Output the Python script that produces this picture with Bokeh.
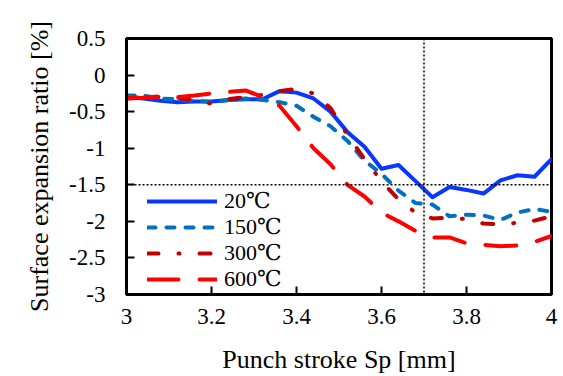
from bokeh.plotting import figure
from bokeh.models import FixedTicker, Span, Legend, LegendItem
from bokeh.embed import file_html
from bokeh.resources import INLINE

stroke = [3.00, 3.04, 3.08, 3.12, 3.16, 3.20, 3.24, 3.28, 3.32, 3.36, 3.40, 3.44, 3.48,
          3.52, 3.56, 3.60, 3.64, 3.68, 3.72, 3.76, 3.80, 3.84, 3.88, 3.92, 3.96, 4.00]

ratio_20 = [-0.30, -0.32, -0.35, -0.37, -0.36, -0.36, -0.34, -0.33, -0.33, -0.22, -0.24, -0.32, -0.50,
            -0.78, -0.98, -1.28, -1.23, -1.45, -1.67, -1.53, -1.57, -1.62, -1.44, -1.37, -1.39, -1.15]
ratio_150 = [-0.28, -0.28, -0.32, -0.33, -0.35, -0.37, -0.34, -0.32, -0.34, -0.37, -0.42, -0.57, -0.70,
             -0.90, -1.17, -1.35, -1.58, -1.75, -1.77, -1.93, -1.91, -1.92, -1.98, -1.88, -1.83, -1.87]
ratio_300 = [-0.32, -0.30, -0.30, -0.31, -0.35, -0.39, -0.33, -0.30, -0.27, -0.22, -0.19, -0.25, -0.45,
             -0.82, -1.15, -1.45, -1.70, -1.88, -1.96, -1.95, -1.97, -2.03, -2.04, -2.02, -1.99, -1.93]
ratio_600 = [-0.32, -0.31, -0.29, -0.30, -0.28, -0.25, -0.23, -0.21, -0.30, -0.42, -0.70, -1.00, -1.22,
             -1.50, -1.66, -1.88, -2.00, -2.13, -2.22, -2.22, -2.30, -2.32, -2.34, -2.33, -2.28, -2.20]

series_names = ["20\u2103", "150\u2103", "300\u2103", "600\u2103"]

x_ticks = [3.0, 3.2, 3.4, 3.6, 3.8, 4.0]
x_tick_labels = ["3", "3.2", "3.4", "3.6", "3.8", "4"]
y_ticks = [0.5, 0.0, -0.5, -1.0, -1.5, -2.0, -2.5, -3.0]
y_tick_labels = ["0.5", "0", "-0.5", "-1", "-1.5", "-2", "-2.5", "-3"]

x_title = "Punch stroke Sp [mm]"
y_title = "Surface expansion ratio [%]"

ref_x = 3.7
ref_y = -1.5

FONT = "'Liberation Serif', 'DejaVu Serif', serif"

p = figure(width=563, height=376, x_range=(3, 4), y_range=(-3, 0.5),
           output_backend="svg", toolbar_location=None,
           min_border_left=126, min_border_right=12, min_border_top=38, min_border_bottom=81)
p.grid.visible = False
p.background_fill_color = "white"
p.border_fill_color = "white"
p.outline_line_color = "black"
p.outline_line_width = 3
p.outline_line_alpha = 1

for ax in (p.xaxis[0], p.yaxis[0]):
    ax.axis_line_color = "black"
    ax.axis_line_width = 3
    ax.major_tick_line_color = "black"
    ax.major_tick_line_width = 2
    ax.major_tick_in = 8
    ax.major_tick_out = 0
    ax.minor_tick_line_color = None
    ax.major_label_text_font = FONT
    ax.major_label_text_font_size = "23px"
    ax.major_label_text_color = "black"
    ax.axis_label_text_font = FONT
    ax.axis_label_text_font_size = "26px"
    ax.axis_label_text_font_style = "normal"
    ax.axis_label_text_color = "black"

p.xaxis.ticker = FixedTicker(ticks=x_ticks)
p.xaxis.major_label_overrides = dict(zip(x_ticks, x_tick_labels))
p.xaxis.major_label_standoff = 14
p.xaxis.axis_label = x_title
p.xaxis.axis_label_standoff = 18

p.yaxis.ticker = FixedTicker(ticks=y_ticks)
p.yaxis.major_label_overrides = dict(zip(y_ticks, y_tick_labels))
p.yaxis.major_label_standoff = 21
p.yaxis.axis_label = y_title
p.yaxis.axis_label_standoff = 12

p.add_layout(Span(location=ref_x, dimension="height", line_color="black",
                  line_width=1.5, line_dash="2 2"))
p.add_layout(Span(location=ref_y, dimension="width", line_color="black",
                  line_width=1.5, line_dash="2 2"))

styles = [
    dict(color="#0A37FF", dash="solid"),
    dict(color="#0070C0", dash="8 11"),
    dict(color="#C00000", dash="11 20 1 20"),
    dict(color="#FF0000", dash="31 21"),
]
items = []
for name, ys, st in zip(series_names, [ratio_20, ratio_150, ratio_300, ratio_600], styles):
    r = p.line(stroke, ys, line_color=st["color"], line_width=4, line_dash=st["dash"],
               line_cap="round", line_join="round")
    items.append(LegendItem(label=name, renderers=[r]))

legend = Legend(items=items, location=(21, 2), padding=0, margin=0, spacing=-4,
                glyph_width=70, glyph_height=26, label_height=26, label_standoff=7,
                label_text_font=FONT, label_text_font_size="22px", label_text_color="black",
                border_line_color=None, background_fill_alpha=0)
p.add_layout(legend)

open("out.html", "w").write(file_html(p, INLINE))
